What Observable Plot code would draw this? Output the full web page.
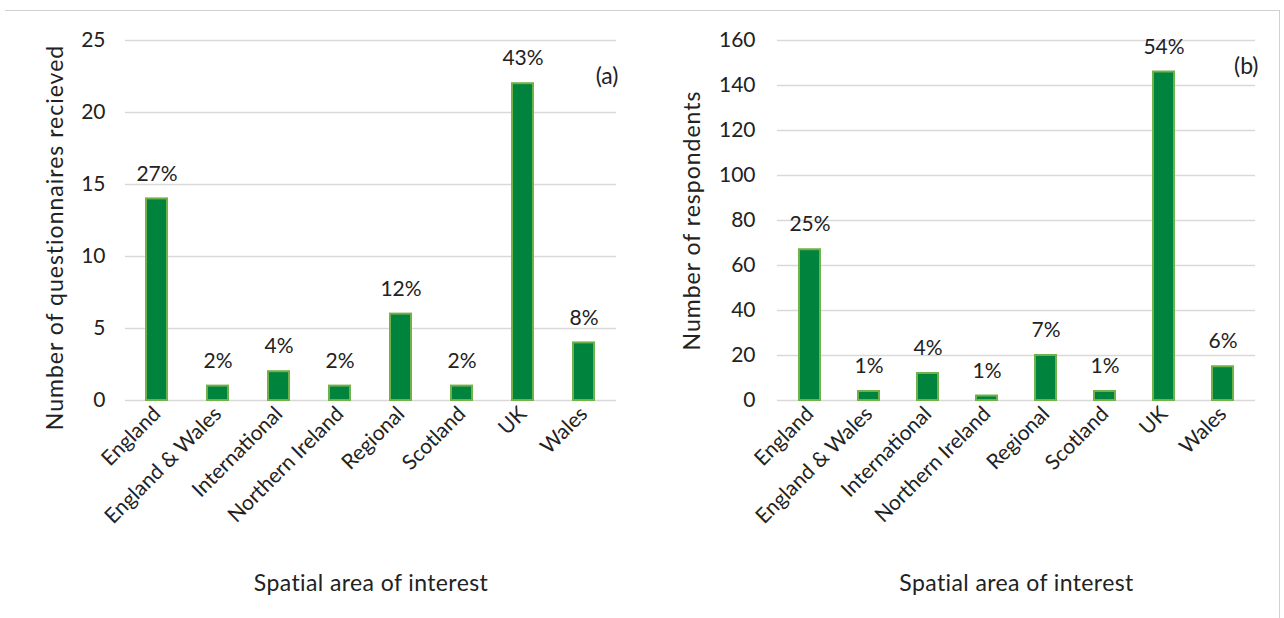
<!DOCTYPE html>
<html><head><meta charset="utf-8">
<script src="https://cdn.jsdelivr.net/npm/d3@7"></script>
<script src="https://cdn.jsdelivr.net/npm/@observablehq/plot@0.6"></script>
<style>
body{margin:0;background:#fff;font-family:Lato,sans-serif;}
#wrap{position:relative;width:1284px;height:618px;overflow:hidden;background:#fff;}
#frame{position:absolute;left:5px;top:10px;width:1274px;height:640px;border-top:1px solid #d0d0d0;border-right:1px solid #d0d0d0;}
.panel{position:absolute;top:0;}
.panel svg{overflow:visible;}
[aria-label="y-axis label"] text{font-size:23px;letter-spacing:1px;}
[aria-label="x-axis label"] text{font-size:23px;letter-spacing:0.4px;}
</style></head><body>
<div id="wrap"><div id="frame"></div><div id="a" class="panel" style="left:0"></div><div id="b" class="panel" style="left:642px"></div></div>
<script>
const categories = ["England","England & Wales","International","Northern Ireland","Regional","Scotland","UK","Wales"];
const questionnaires = [14,1,2,1,6,1,22,4];
const questionnairePct = ["27%","2%","4%","2%","12%","2%","43%","8%"];
const respondents = [67,4,12,2,20,4,146,15];
const respondentPct = ["25%","1%","4%","1%","7%","1%","54%","6%"];
const ticksA = [0,5,10,15,20,25];
const ticksB = [0,20,40,60,80,100,120,140,160];

function panel(values, pcts, ticks, yLabel, tag, m) {
  const data = categories.map((c,i)=>({cat:c, value:values[i], pct:pcts[i]}));
  const svg = Plot.plot({
    width: 642, height: 618,
    marginTop: 40, marginBottom: 218, marginLeft: m.left, marginRight: m.right,
    style: {fontFamily:"Lato, sans-serif", fontSize:"21px", color:"#222", background:"transparent", overflow:"visible"},
    x: {domain: categories, paddingInner: 0.65, paddingOuter: 0.325},
    y: {domain: [ticks[0], ticks[ticks.length-1]]},
    marks: [
      Plot.gridY(ticks, {stroke:"#d9d9d9", strokeOpacity:1, strokeWidth:1.3}),
      Plot.barY(data, {x:"cat", y:"value", fill:"#00843d", stroke:"#72b04a", strokeWidth:2}),
      Plot.text(data, {x:"cat", y:"value", text:"pct", dy:-25, fill:"#222", fontSize:21}),
      Plot.axisY(ticks, {tickSize:0, tickPadding:m.tp, label:yLabel, labelArrow:"none", labelAnchor:"center", labelOffset:m.lo}),
      Plot.axisX({tickSize:0, tickRotate:-45, tickPadding:10, label:"Spatial area of interest", labelArrow:"none", labelAnchor:"center", labelOffset:190}),
      Plot.text([tag], {frameAnchor:"top-right", text:d=>d, dx:m.tdx, dy:m.tdy, fontSize:23, fill:"#222"})
    ]
  });
  const g = svg.querySelector('[aria-label="y-axis label"]');
  if (g && m.shift) {
    const t = g.getAttribute("transform");
    g.setAttribute("transform", (t ? t + " " : "") + `translate(0,${m.shift})`);
  }
  return svg;
}
document.getElementById("a").append(panel(questionnaires, questionnairePct, ticksA, "Number of questionnaires recieved", "(a)", {left:125,right:26,tp:20,lo:79,tdx:2,tdy:27,shift:17}));
document.getElementById("b").append(panel(respondents, respondentPct, ticksB, "Number of respondents", "(b)", {left:135,right:29,tp:22,lo:94,tdx:3,tdy:17,shift:0}));
</script>
</body></html>
